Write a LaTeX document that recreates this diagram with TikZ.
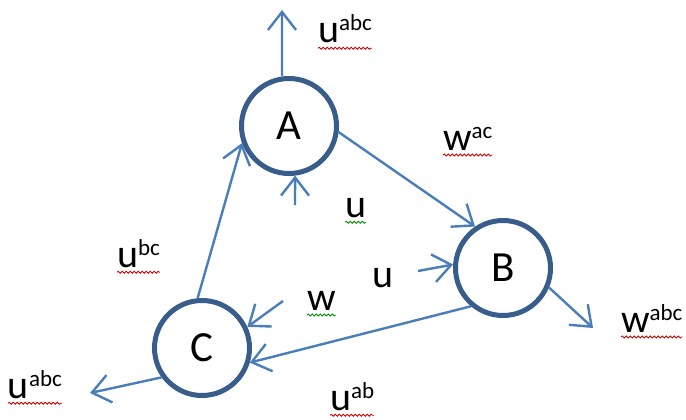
\documentclass[tikz,border=0pt]{standalone}
\usepackage{fontspec}
\setmainfont{Carlito}
\usetikzlibrary{arrows.meta,decorations.pathmorphing}
\definecolor{edgeblue}{HTML}{4A7EBB}
\definecolor{ringblue}{HTML}{385D8A}
\newcommand{\suplbl}[2]{#1\raisebox{12pt}{\fontsize{23}{27}\selectfont #2}}

\begin{document}
\begin{tikzpicture}[x=1pt, y=-1pt,
  state/.style={circle, draw=ringblue, line width=5pt, minimum size=95pt, inner sep=0pt, font=\fontsize{43}{50}\selectfont},
  flow/.style={draw=edgeblue, line width=2.4pt, -{Straight Barb[length=18pt,width=28pt]}},
  lbl/.style={anchor=base west, inner sep=0pt, outer sep=0pt, font=\fontsize{40}{48}\selectfont},
  redwave/.style={draw=red!80!black, line width=0.8pt, decorate, decoration={snake, amplitude=1pt, segment length=4pt}},
  greenwave/.style={draw=green!55!black, line width=0.8pt, decorate, decoration={snake, amplitude=1pt, segment length=4pt}}]
\useasboundingbox (0,0) rectangle (686,420);
% States
    \node[state] (A) at (289,126) {A};
    \node[state] (B) at (503,268) {B};
    \node[state] (C) at (202,348) {C};
% Free ends
    \coordinate (aout) at (282,10);
    \coordinate (bout) at (593,328);
    \coordinate (cout) at (90,393);
    \coordinate (ain) at (295,205);
    \coordinate (bin) at (418,271);
    \coordinate (cin) at (283,301);
% Triangle edges
    \draw[flow] (A.-7) -- (B.124);
    \draw[flow] (C.95) -- (A.200);
    \draw[flow] (B.230) -- (C.-17);
% Outgoing
    \draw[flow] (A.98) -- (aout);
    \draw[flow] (B.-23) -- (bout);
    \draw[flow] (C.216) -- (cout);
% Incoming
    \draw[flow] (ain) -- (A.-83);
    \draw[flow] (bin) -- (B.176);
    \draw[flow] (cin) -- (C.25);
% Labels
    \node[lbl] (la) at (318,43) {\suplbl{u}{abc}};
    \node[lbl] (lac) at (443,150) {\suplbl{w}{ac}};
    \node[lbl] (lu) at (345,217) {u};
    \node[lbl] (lub) at (372,287) {u};
    \node[lbl] (lw) at (307,310) {w};
    \node[lbl] (lbc) at (117,267) {\suplbl{u}{bc}};
    \node[lbl] (lc) at (8,398) {\suplbl{u}{abc}};
    \node[lbl] (lab) at (330,410) {\suplbl{u}{ab}};
    \node[lbl] (lb) at (621,332) {\suplbl{w}{abc}};
% Underlines
    \foreach \n in {la,lac,lbc,lc,lab,lb}
        \draw[redwave] ([yshift=-5pt]\n.south west) -- ([yshift=-5pt]\n.south east);
    \foreach \n in {lu,lw}
        \draw[greenwave] ([yshift=-5pt]\n.south west) -- ([yshift=-5pt]\n.south east);
\end{tikzpicture}
\end{document}
